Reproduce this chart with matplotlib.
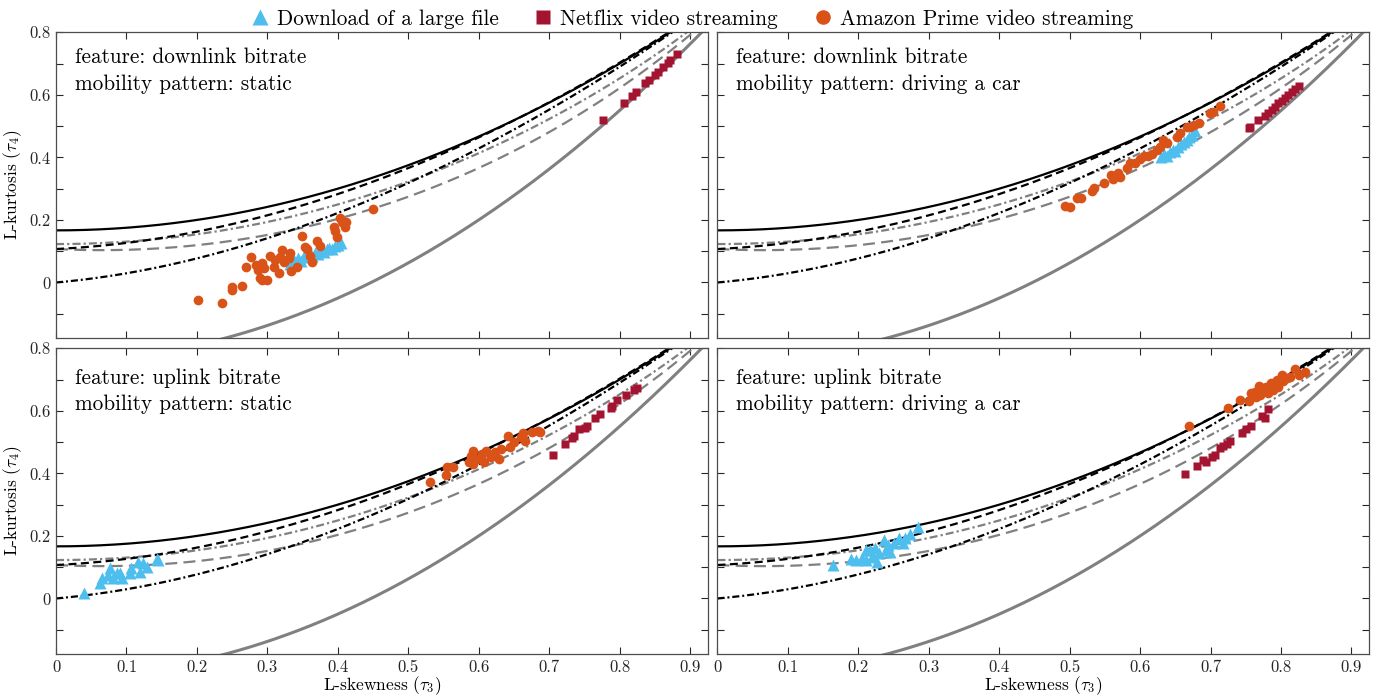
import numpy as np
import matplotlib
matplotlib.use("Agg")
import matplotlib.pyplot as plt
from matplotlib.ticker import MultipleLocator, FuncFormatter
from matplotlib.lines import Line2D

plt.rcParams['font.family'] = ['cmr10', 'DejaVu Serif']
plt.rcParams['mathtext.fontset'] = 'cm'
plt.rcParams['axes.unicode_minus'] = False
plt.rcParams['axes.formatter.use_mathtext'] = True

# theoretical L-moment ratio curves (polynomial coefficients in tau3, lowest order first)
glo_coef = [1 / 6, 0.0, 5 / 6]
gev_coef = [0.10701, 0.11090, 0.84838, -0.06669, 0.00567, -0.04208, 0.03763]
wei_coef = [0.10701, -0.11090, 0.84838, 0.06669, 0.00567, 0.04208, 0.03763]
gno_coef = [0.12282, 0.0, 0.77518, 0.0, 0.12279, 0.0, -0.13638, 0.0, 0.11368]
gpa_num = [0.0, 1.0, 5.0]
gpa_den = [5.0, 1.0]
bound_coef = [-0.25, 0.0, 1.25]

# downlink / static
dl_st_file_t3 = [0.332, 0.338, 0.344, 0.348, 0.352, 0.356, 0.360, 0.364, 0.368, 0.372,
                 0.376, 0.380, 0.384, 0.388, 0.392, 0.396, 0.400, 0.404]
dl_st_file_t4 = [0.060, 0.072, 0.078, 0.070, 0.085, 0.080, 0.090, 0.084, 0.095, 0.090,
                 0.100, 0.097, 0.106, 0.110, 0.106, 0.116, 0.120, 0.126]
dl_st_netflix_t3 = [0.776, 0.806, 0.817, 0.823, 0.836, 0.842, 0.850, 0.855, 0.862, 0.869, 0.872, 0.881]
dl_st_netflix_t4 = [0.520, 0.573, 0.597, 0.608, 0.637, 0.648, 0.663, 0.674, 0.690, 0.703, 0.711, 0.730]
dl_st_prime_t3 = [0.201, 0.236, 0.250, 0.250, 0.264, 0.269, 0.277, 0.284, 0.287, 0.290,
                  0.293, 0.299, 0.292, 0.295, 0.304, 0.309, 0.311, 0.317, 0.318, 0.321,
                  0.323, 0.330, 0.332, 0.333, 0.342, 0.349, 0.354, 0.356, 0.360, 0.363,
                  0.370, 0.375, 0.394, 0.396, 0.399, 0.403, 0.406, 0.410, 0.412, 0.450]
dl_st_prime_t4 = [-0.055, -0.066, -0.016, -0.025, -0.012, 0.048, 0.083, 0.056, 0.040, 0.014,
                  0.009, 0.009, 0.061, 0.045, 0.085, 0.051, 0.072, 0.030, 0.083, 0.104,
                  0.067, 0.078, 0.094, 0.038, 0.051, 0.150, 0.113, 0.108, 0.085, 0.064,
                  0.134, 0.117, 0.177, 0.165, 0.147, 0.206, 0.192, 0.177, 0.195, 0.235]

# downlink / driving
dl_dr_file_t3 = [0.630, 0.634, 0.638, 0.642, 0.646, 0.650, 0.654, 0.658, 0.662, 0.666,
                 0.670, 0.674, 0.678]
dl_dr_file_t4 = [0.400, 0.410, 0.405, 0.418, 0.425, 0.420, 0.434, 0.442, 0.450, 0.456,
                 0.465, 0.472, 0.486]
dl_dr_netflix_t3 = [0.754, 0.756, 0.768, 0.777, 0.782, 0.787, 0.791, 0.796, 0.801, 0.806,
                    0.810, 0.815, 0.820, 0.825]
dl_dr_netflix_t4 = [0.493, 0.498, 0.520, 0.532, 0.541, 0.552, 0.562, 0.573, 0.581, 0.589,
                    0.600, 0.610, 0.618, 0.629]
dl_dr_prime_t3 = [0.494, 0.501, 0.510, 0.516, 0.531, 0.535, 0.548, 0.558, 0.562, 0.569,
                  0.572, 0.581, 0.586, 0.593, 0.600, 0.605, 0.611, 0.617, 0.624, 0.628,
                  0.633, 0.638, 0.652, 0.657, 0.666, 0.671, 0.676, 0.683, 0.699, 0.704, 0.714]
dl_dr_prime_t4 = [0.243, 0.241, 0.270, 0.270, 0.291, 0.301, 0.317, 0.344, 0.330, 0.349,
                  0.338, 0.365, 0.383, 0.381, 0.396, 0.403, 0.403, 0.412, 0.425, 0.434,
                  0.456, 0.445, 0.466, 0.477, 0.498, 0.498, 0.504, 0.509, 0.543, 0.546, 0.564]

# uplink / static
ul_st_file_t3 = [0.039, 0.063, 0.065, 0.074, 0.077, 0.081, 0.086, 0.091, 0.093, 0.105,
                 0.107, 0.117, 0.119, 0.124, 0.129, 0.143, 0.145]
ul_st_file_t4 = [0.017, 0.049, 0.065, 0.076, 0.097, 0.065, 0.081, 0.081, 0.065, 0.081,
                 0.097, 0.118, 0.086, 0.113, 0.102, 0.126, 0.122]
ul_st_netflix_t3 = [0.706, 0.722, 0.732, 0.735, 0.743, 0.751, 0.754, 0.765, 0.772, 0.788,
                    0.789, 0.797, 0.809, 0.820, 0.825]
ul_st_netflix_t4 = [0.459, 0.493, 0.512, 0.518, 0.541, 0.544, 0.552, 0.576, 0.590, 0.608,
                    0.615, 0.635, 0.651, 0.667, 0.672]
ul_st_prime_t3 = [0.531, 0.554, 0.555, 0.563, 0.586, 0.589, 0.592, 0.598, 0.604, 0.607,
                  0.617, 0.623, 0.629, 0.632, 0.641, 0.644, 0.650, 0.660, 0.666, 0.675,
                  0.684, 0.592, 0.611, 0.663, 0.687]
ul_st_prime_t4 = [0.371, 0.395, 0.422, 0.419, 0.435, 0.457, 0.430, 0.446, 0.462, 0.435,
                  0.451, 0.467, 0.446, 0.478, 0.521, 0.483, 0.499, 0.516, 0.505, 0.532,
                  0.537, 0.473, 0.473, 0.528, 0.533]

# uplink / driving
ul_dr_file_t3 = [0.164, 0.189, 0.196, 0.205, 0.211, 0.217, 0.223, 0.226, 0.229, 0.236,
                 0.242, 0.245, 0.251, 0.257, 0.263, 0.266, 0.273, 0.284, 0.211, 0.220, 0.239]
ul_dr_file_t4 = [0.107, 0.126, 0.123, 0.129, 0.123, 0.155, 0.161, 0.116, 0.145, 0.187,
                 0.171, 0.150, 0.177, 0.193, 0.177, 0.193, 0.206, 0.230, 0.155, 0.134, 0.155]
ul_dr_netflix_t3 = [0.664, 0.680, 0.689, 0.694, 0.702, 0.706, 0.713, 0.718, 0.723, 0.728,
                    0.744, 0.750, 0.758, 0.773, 0.777, 0.782]
ul_dr_netflix_t4 = [0.397, 0.424, 0.443, 0.438, 0.453, 0.460, 0.480, 0.486, 0.494, 0.502,
                    0.528, 0.541, 0.552, 0.582, 0.578, 0.606]
ul_dr_prime_t3 = [0.670, 0.725, 0.742, 0.754, 0.758, 0.763, 0.769, 0.770, 0.775, 0.779,
                  0.782, 0.786, 0.789, 0.794, 0.796, 0.801, 0.803, 0.808, 0.813, 0.820,
                  0.825, 0.834, 0.773, 0.765, 0.791]
ul_dr_prime_t4 = [0.552, 0.608, 0.635, 0.630, 0.656, 0.661, 0.680, 0.651, 0.667, 0.677,
                  0.656, 0.688, 0.667, 0.698, 0.677, 0.715, 0.694, 0.704, 0.709, 0.733,
                  0.715, 0.725, 0.672, 0.645, 0.683]

panel_text = ["feature: downlink bitrate\nmobility pattern: static",
              "feature: downlink bitrate\nmobility pattern: driving a car",
              "feature: uplink bitrate\nmobility pattern: static",
              "feature: uplink bitrate\nmobility pattern: driving a car"]
panel_data = [
    (dl_st_file_t3, dl_st_file_t4, dl_st_netflix_t3, dl_st_netflix_t4, dl_st_prime_t3, dl_st_prime_t4),
    (dl_dr_file_t3, dl_dr_file_t4, dl_dr_netflix_t3, dl_dr_netflix_t4, dl_dr_prime_t3, dl_dr_prime_t4),
    (ul_st_file_t3, ul_st_file_t4, ul_st_netflix_t3, ul_st_netflix_t4, ul_st_prime_t3, ul_st_prime_t4),
    (ul_dr_file_t3, ul_dr_file_t4, ul_dr_netflix_t3, ul_dr_netflix_t4, ul_dr_prime_t3, ul_dr_prime_t4),
]

c_file = '#4DBEEE'
c_netflix = '#A2142F'
c_prime = '#D95319'


def poly(coef, x):
    return np.polynomial.polynomial.polyval(x, coef)


def draw_curves(ax):
    t3 = np.linspace(0, 0.93, 400)
    ax.plot(t3, poly(bound_coef, t3), color='0.5', lw=2.2, solid_capstyle='butt')
    ax.plot(t3, poly(wei_coef, t3), color='0.5', lw=1.6, dashes=(5.4, 2.8))
    ax.plot(t3, poly(gno_coef, t3), color='0.5', lw=1.6, dashes=(3.6, 1.4, 1.0, 1.4))
    ax.plot(t3, poly(gpa_num, t3) / poly(gpa_den, t3), color='k', lw=1.6, dashes=(3.2, 1.3, 0.9, 1.3))
    ax.plot(t3, poly(gev_coef, t3), color='k', lw=1.6, dashes=(3.6, 2.0))
    ax.plot(t3, poly(glo_coef, t3), color='k', lw=1.6)


fig = plt.figure(figsize=(13.8, 6.98), dpi=100)
lefts = [0.0406, 0.5199]
bottoms = [0.5160, 0.0633]
w, h = 0.4722, 0.4377
text_y = [0.95, 0.935]

ytick_fmt = FuncFormatter(lambda v, p: ('0' if abs(v) < 1e-9 else '%g' % round(v, 1))
                          if abs(round(v * 10)) % 2 == 0 else '')
xtick_fmt = FuncFormatter(lambda v, p: '0' if abs(v) < 1e-9 else '%g' % round(v, 1))

for i in range(4):
    row, col = divmod(i, 2)
    ax = fig.add_axes([lefts[col], bottoms[row], w, h])
    draw_curves(ax)
    f3, f4, n3, n4, p3, p4 = panel_data[i]
    ax.plot(f3, f4, '^', color=c_file, ms=8.5, mec='none')
    ax.plot(n3, n4, 's', color=c_netflix, ms=5.8, mec='none')
    ax.plot(p3, p4, 'o', color=c_prime, ms=7, mec='none')
    ax.set_xlim(0, 0.925)
    ax.set_ylim(-0.177, 0.8)
    ax.xaxis.set_major_locator(MultipleLocator(0.1))
    ax.yaxis.set_major_locator(MultipleLocator(0.1))
    ax.tick_params(direction='in', length=5, width=0.8, top=True, right=True,
                   labelsize=12, colors='0.15', pad=4)
    for s in ax.spines.values():
        s.set_color('0.3')
        s.set_linewidth(0.9)
    if col == 0:
        ax.yaxis.set_major_formatter(ytick_fmt)
        ax.set_ylabel(r'L-kurtosis ($\tau_4$)', fontsize=12.5, labelpad=4)
    else:
        ax.set_yticklabels([])
    if row == 1:
        ax.xaxis.set_major_formatter(xtick_fmt)
        ax.set_xlabel(r'L-skewness ($\tau_3$)', fontsize=12.5, labelpad=0)
    else:
        ax.set_xticklabels([])
    ax.text(0.029, text_y[row], panel_text[i], transform=ax.transAxes, ha='left', va='top',
            fontsize=15.3, linespacing=1.45)

handles = [
    Line2D([], [], ls='none', marker='^', color=c_file, ms=11.5, mec='none', label='Download of a large file'),
    Line2D([], [], ls='none', marker='s', color=c_netflix, ms=9.5, mec='none', label='Netflix video streaming'),
    Line2D([], [], ls='none', marker='o', color=c_prime, ms=10.5, mec='none', label='Amazon Prime video streaming'),
]
fig.legend(handles=handles, loc='upper center', bbox_to_anchor=(0.5, 1.014), ncol=3,
           frameon=False, fontsize=15.3, handletextpad=0.2, columnspacing=1.5, handlelength=1.2)

fig.savefig('out.png', dpi=100)
